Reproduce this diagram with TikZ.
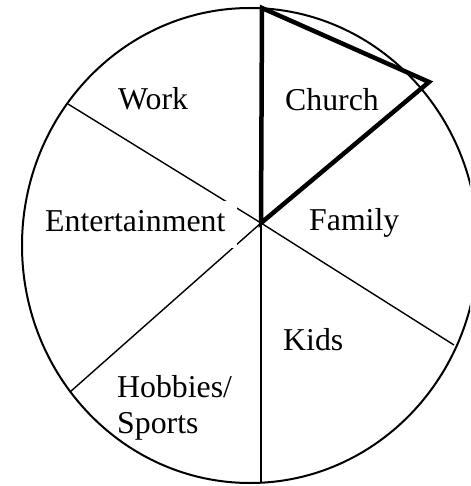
\documentclass[tikz,border=0pt]{standalone}
\usepackage{fontspec}
\setmainfont{Liberation Serif}
\begin{document}
\begin{tikzpicture}[x=1pt,y=-1pt,
  rim/.style={line width=2pt},
  spoke/.style={line width=1.4pt},
  church/.style={line width=4.5pt,line join=miter},
  lbl/.style={anchor=base west,inner sep=0pt,font=\fontsize{31.8pt}{36pt}\selectfont}]
\useasboundingbox (0,0) rectangle (470,486);
\clip (0,0) rectangle (470,486);
\coordinate (hub) at (261,223);
\coordinate (top) at (262,8);
\coordinate (bot) at (261,483);
\coordinate (ul) at (68,104);
\coordinate (ll) at (70,392);
\coordinate (lr) at (454,345);
\coordinate (apex) at (429,82);
\draw[rim] (250,245.5) ellipse [x radius=228,y radius=237.5];
\draw[spoke] (hub) -- (ul);
\draw[spoke] (hub) -- (ll);
\draw[spoke] (hub) -- (lr);
\draw[spoke] (hub) -- (bot);
\draw[church] (hub) -- (top) -- (apex) -- cycle;
\node[lbl] (work) at (118,110) {Work};
\node[lbl] (church) at (285,111) {Church};
\node[lbl,fill=white,inner xsep=12pt,inner ysep=9pt,text depth=8pt] (ent) at (33,231) {Entertainment};
\node[lbl] (family) at (309,230) {Family};
\node[lbl] (kids) at (283,350) {Kids};
\node[lbl] (hobbies) at (117,397) {Hobbies/};
\node[lbl] (sports) at (117,433) {Sports};
\end{tikzpicture}
\end{document}
